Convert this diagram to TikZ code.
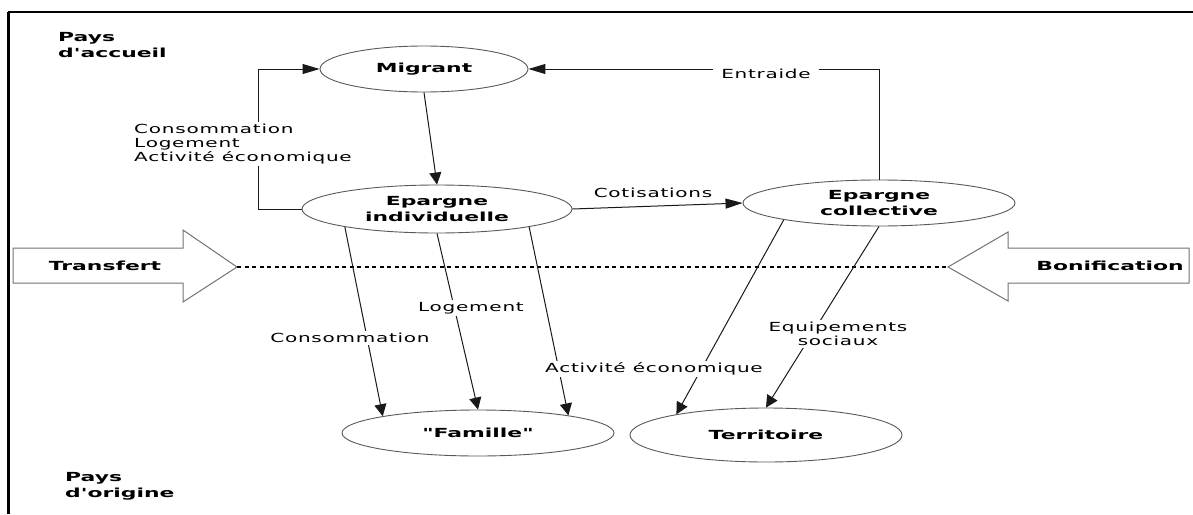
\documentclass[tikz,border=0pt]{standalone}
\usepackage{fontspec}
\setmainfont{DejaVu Sans}
\newfontfamily\boxfont[FakeStretch=1.75,Ligatures=TeXOff]{DejaVu Sans}
\newfontfamily\labelfont[FakeStretch=1.6,LetterSpace=6]{DejaVu Sans}
\usetikzlibrary{shapes.geometric,arrows.meta}

\begin{document}
\begin{tikzpicture}[
x=1pt,y=-1pt,
place/.style={
draw=black!65,
line width=0.9pt,
ellipse,
inner sep=0pt,
align=center,
font=\boxfont\bfseries\fontsize{12.5}{15.5}\selectfont
},
title/.style={
anchor=west,
align=left,
inner sep=0pt,
font=\boxfont\bfseries\fontsize{12.5}{16}\selectfont
},
flow/.style={
draw=black!90,
line width=1pt,
-{Triangle[length=12pt,width=12pt]}
},
sideflow/.style={
draw=black!90,
line width=1pt,
-{Triangle[length=17pt,width=10pt]}
},
lbl/.style={
fill=white,
inner sep=2pt,
font=\labelfont\fontsize{12.5}{14}\selectfont
},
bigarrow/.style={
draw=black!55,
fill=white,
line width=1pt
}
]

\useasboundingbox (0,0) rectangle (1193,514);

% cadre
\draw[line width=3pt] (8,514) -- (8,12);
\draw[line width=1.5pt] (8,12) -- (1193,12);

\node[title] (accueil) at (58,45)
{Pays\\d'accueil};

\node[title] (origine) at (65,486)
{Pays\\d'origine};

% grandes fleches
\draw[bigarrow] (13,248) -- (183,248) -- (183,230) -- (237,267)
-- (183,302) -- (183,283) -- (13,283) -- cycle;
\draw[bigarrow] (1189,248) -- (1008,248) -- (1008,232) -- (948,267)
-- (1008,301) -- (1008,283) -- (1189,283) -- cycle;

\coordinate (trtip) at (237,267);
\coordinate (bntip) at (948,267);

\node[title, anchor=center] (transfert) at (105,266)
{Transfert};
\node[title, anchor=center] (bonif) at (1110,266)
{Bonification};

\draw[line width=2pt, dash pattern=on 4pt off 3.5pt] (trtip) -- (bntip);

% ellipses
\node[place, minimum width=208pt, minimum height=46pt] (M) at (424,69)
{Migrant};

\node[place, minimum width=270pt, minimum height=48pt] (EI) at (437,209)
{Epargne\\individuelle};

\node[place, minimum width=272pt, minimum height=46pt] (EC) at (879,203)
{Epargne\\collective};

\node[place, minimum width=272pt, minimum height=46pt] (F) at (478,433)
{"Famille"};

\node[place, minimum width=272pt, minimum height=54pt] (T) at (766,435)
{Territoire};

% liens
\draw[flow] (M.south) -- (EI.north);
\draw[sideflow] (EI.west) -- ++(-43,0) |- (M.west);
\draw[sideflow] (EC.north) |- (M.east);
\draw[sideflow] (EI.east) -- (EC.west);

\draw[flow] (EI.191) -- (F.170);
\draw[flow] (EI.south) -- (F.north);
\draw[flow] (EI.349) -- (F.11);
\draw[flow] (EC.190) -- (T.167);
\draw[flow] (EC.south) -- (T.north);

% etiquettes
\node[lbl, align=left] (usages) at (243,144)
{Consommation\\Logement\\Activité économique};

\node[lbl, inner xsep=8pt] (entraide) at (766,74)
{Entraide};

\node[lbl, fill=none] (cotis) at (653,193)
{Cotisations};

\node[lbl] (conso) at (350,338)
{Consommation};

\node[lbl] (loge) at (471,308)
{Logement};

\node[lbl] (activ) at (654,369)
{Activité économique};

\node[lbl, align=center] (equip) at (838,334)
{Equipements\\sociaux};

\end{tikzpicture}
\end{document}
